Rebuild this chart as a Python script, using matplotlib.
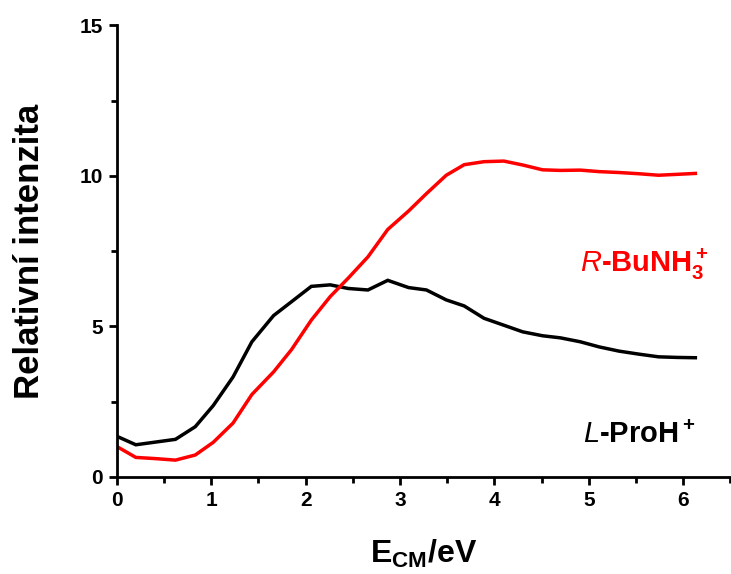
import matplotlib
matplotlib.use("Agg")
import matplotlib.pyplot as plt
from matplotlib.ticker import MultipleLocator

plt.rcParams['font.family'] = ['Liberation Sans', 'DejaVu Sans']
plt.rcParams['font.weight'] = 'bold'
plt.rcParams['mathtext.fontset'] = 'custom'
plt.rcParams['mathtext.rm'] = 'Liberation Sans:bold'
plt.rcParams['mathtext.bf'] = 'Liberation Sans:bold'
plt.rcParams['mathtext.it'] = 'Liberation Sans:italic:weight=400'
plt.rcParams['mathtext.sf'] = 'Liberation Sans:bold'

energy = [0.00, 0.20, 0.41, 0.62, 0.83, 1.02, 1.23, 1.43, 1.66, 1.85, 2.06,
          2.26, 2.45, 2.66, 2.87, 3.09, 3.28, 3.49, 3.68, 3.89, 4.10,
          4.30, 4.51, 4.70, 4.91, 5.11, 5.32, 5.53, 5.74, 5.94, 6.13]
proh = [1.35, 1.07, 1.16, 1.25, 1.67, 2.37, 3.32, 4.49, 5.36, 5.82, 6.33,
        6.38, 6.26, 6.21, 6.53, 6.29, 6.21, 5.88, 5.68, 5.27, 5.04,
        4.82, 4.69, 4.62, 4.49, 4.32, 4.18, 4.08, 3.99, 3.97, 3.96]
bunh = [1.01, 0.65, 0.61, 0.56, 0.73, 1.15, 1.79, 2.74, 3.49, 4.23, 5.21,
        5.99, 6.60, 7.31, 8.22, 8.83, 9.41, 10.02, 10.37, 10.47, 10.49,
        10.36, 10.20, 10.18, 10.19, 10.14, 10.11, 10.07, 10.02, 10.05, 10.08]

fig = plt.figure(figsize=(7.31, 5.74), dpi=100)
ax = fig.add_axes([0.160, 0.169, 0.839, 0.787])

ax.plot(energy, proh, color='black', lw=2.5, solid_joinstyle='miter')
ax.plot(energy, bunh, color='#ff0000', lw=2.5, solid_joinstyle='miter')

ax.set_xlim(0, 6.5)
ax.set_ylim(0, 15)
ax.xaxis.set_major_locator(MultipleLocator(1))
ax.xaxis.set_minor_locator(MultipleLocator(0.5))
ax.yaxis.set_major_locator(MultipleLocator(5))
ax.yaxis.set_minor_locator(MultipleLocator(2.5))

for s in ['top', 'right']:
    ax.spines[s].set_visible(False)
for s in ['left', 'bottom']:
    ax.spines[s].set_linewidth(2.0)

ax.tick_params(which='major', direction='out', length=6, width=2.0,
               labelsize=15, pad=4)
ax.tick_params(which='minor', direction='out', length=4, width=2.0)
for lab in ax.get_xticklabels() + ax.get_yticklabels():
    lab.set_fontweight('bold')

ax.set_xlabel(r'E$_{\mathbf{CM}}$/eV', fontsize=23, fontweight='bold', labelpad=20)
ax.set_ylabel('Relativní intenzita', fontsize=25, fontweight='bold', labelpad=24)

ax.text(6.27, 6.8, r'$\mathit{R}$-BuNH$_3^+$', color='#ff0000', fontsize=21,
        fontweight='bold', ha='right', va='baseline')
ax.text(6.13, 1.13, r'$\mathit{L}$-ProH$^+$', color='black', fontsize=21,
        fontweight='bold', ha='right', va='baseline')

fig.savefig('out.png', dpi=100)
